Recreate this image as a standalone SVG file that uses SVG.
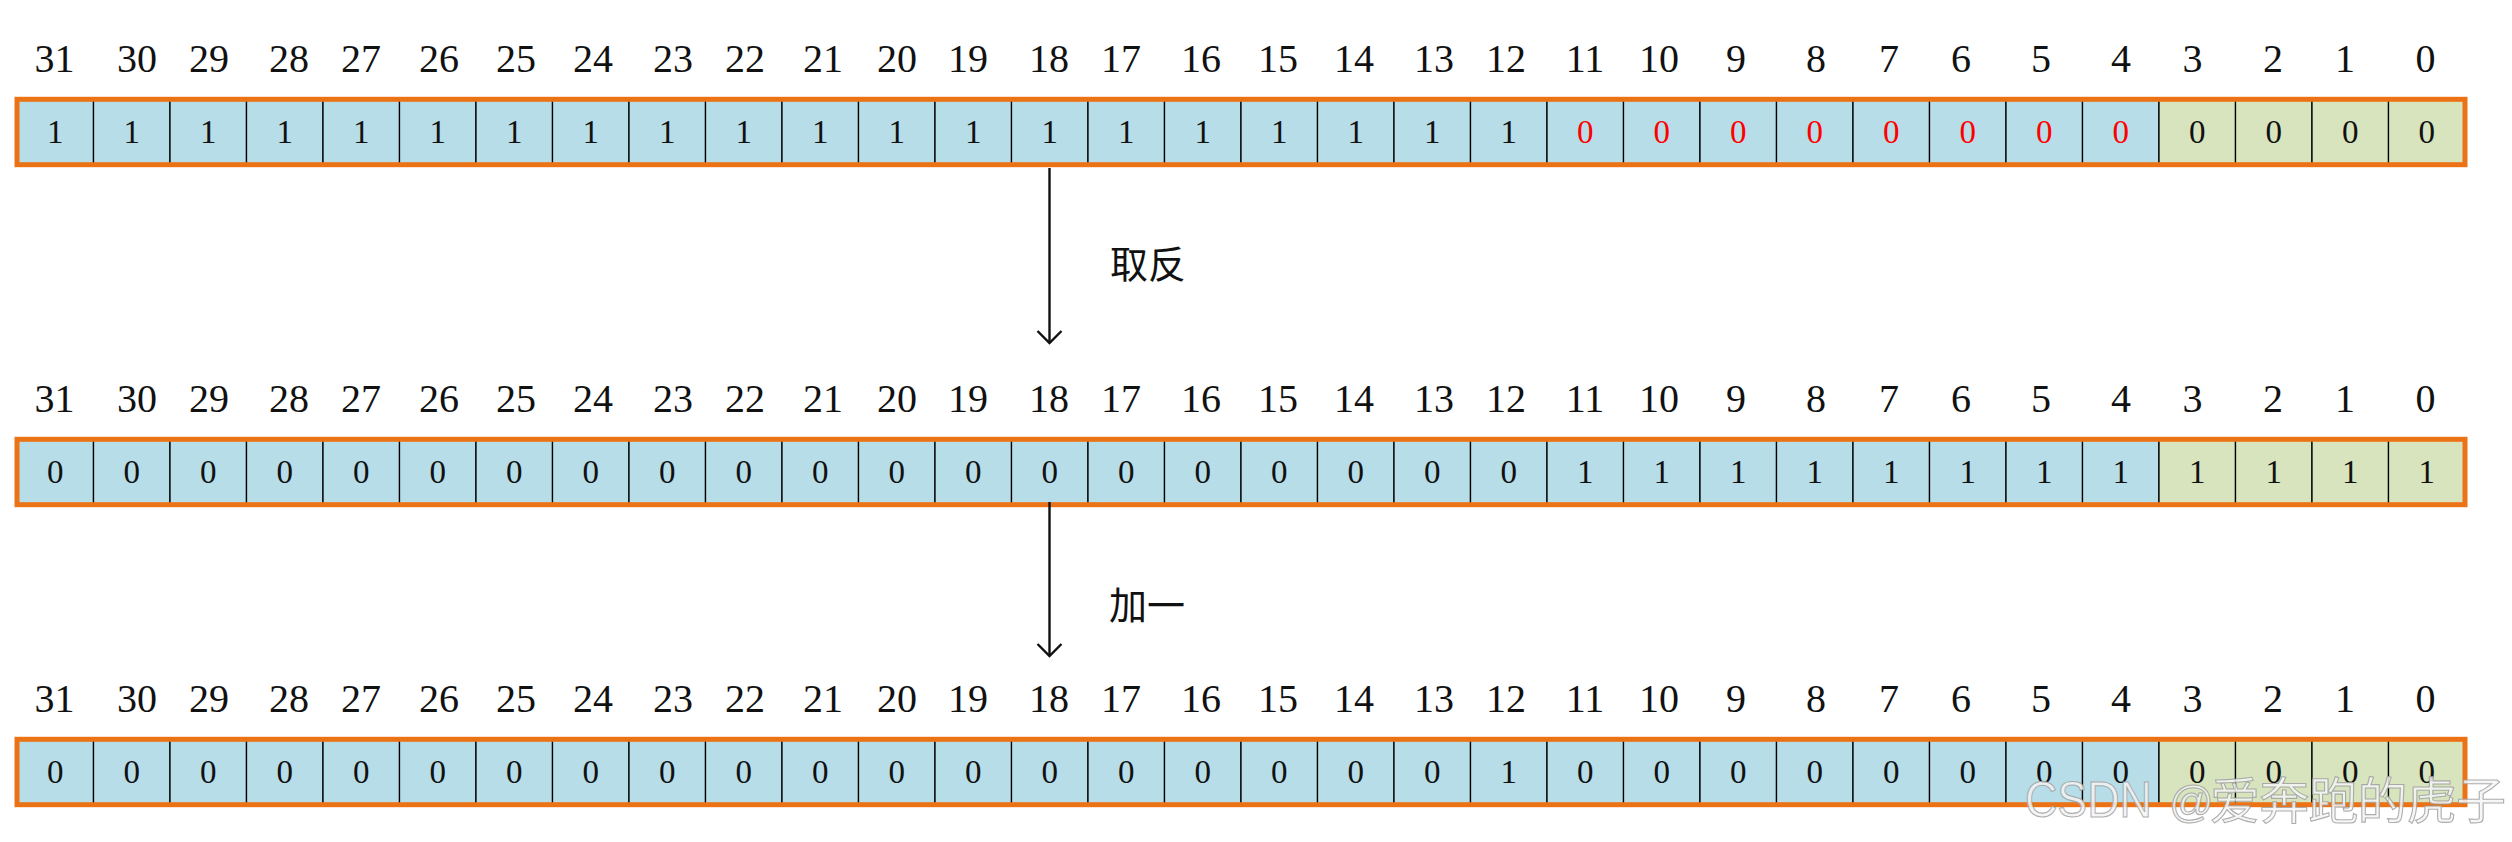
<svg xmlns="http://www.w3.org/2000/svg" width="2512" height="842" viewBox="0 0 2512 842">
<style>
.bg{fill:#ffffff}
.c{fill:#B7DDE8;stroke:#000;stroke-width:1.3}
.g{fill:#D7E4BD;stroke:#000;stroke-width:1.3}
.frame{fill:none;stroke:#EB7316;stroke-width:5}
.lbl{font-family:"Liberation Serif","DejaVu Serif",serif;font-size:40px;fill:#111;text-anchor:middle}
.v{font-family:"Liberation Serif","DejaVu Serif",serif;font-size:33px;fill:#111;text-anchor:middle}
.r{fill:#FF0000}
.op{font-family:"Noto Sans CJK SC","Noto Sans CJK JP",sans-serif;font-size:38px;fill:#111}
.arr{stroke:#111;stroke-width:2.4;fill:none}
.wm{font-size:50px;fill:#f4f4f4;fill-opacity:0.85;stroke:#9a9a9a;stroke-width:1.1;stroke-opacity:0.8}
.wl{font-family:"Liberation Sans","Noto Sans",sans-serif}
.wc{font-family:"Noto Sans CJK SC","Noto Sans CJK JP",sans-serif}
</style>
<rect class="bg" x="0" y="0" width="2512" height="842"/>

<g id="row1">
<g class="hdr">
<text class="lbl" x="54.5" y="72">31</text><text class="lbl" x="137" y="72">30</text><text class="lbl" x="209" y="72">29</text><text class="lbl" x="289" y="72">28</text><text class="lbl" x="361" y="72">27</text><text class="lbl" x="439" y="72">26</text><text class="lbl" x="516" y="72">25</text><text class="lbl" x="593" y="72">24</text><text class="lbl" x="673" y="72">23</text><text class="lbl" x="745" y="72">22</text><text class="lbl" x="823" y="72">21</text><text class="lbl" x="897" y="72">20</text><text class="lbl" x="968" y="72">19</text><text class="lbl" x="1049" y="72">18</text><text class="lbl" x="1121" y="72">17</text><text class="lbl" x="1201" y="72">16</text><text class="lbl" x="1278" y="72">15</text><text class="lbl" x="1354" y="72">14</text><text class="lbl" x="1434" y="72">13</text><text class="lbl" x="1506" y="72">12</text><text class="lbl" x="1585" y="72">11</text><text class="lbl" x="1659" y="72">10</text><text class="lbl" x="1736" y="72">9</text><text class="lbl" x="1816" y="72">8</text><text class="lbl" x="1889" y="72">7</text><text class="lbl" x="1961" y="72">6</text><text class="lbl" x="2041" y="72">5</text><text class="lbl" x="2121" y="72">4</text><text class="lbl" x="2192.5" y="72">3</text><text class="lbl" x="2273" y="72">2</text><text class="lbl" x="2345" y="72">1</text><text class="lbl" x="2425.5" y="72">0</text>
</g>
<g class="cells">
<rect class="c" x="17" y="99.3" width="76.5" height="65.4"/><rect class="c" x="93.5" y="99.3" width="76.5" height="65.4"/><rect class="c" x="170" y="99.3" width="76.5" height="65.4"/><rect class="c" x="246.5" y="99.3" width="76.5" height="65.4"/><rect class="c" x="323" y="99.3" width="76.5" height="65.4"/><rect class="c" x="399.5" y="99.3" width="76.5" height="65.4"/><rect class="c" x="476" y="99.3" width="76.5" height="65.4"/><rect class="c" x="552.5" y="99.3" width="76.5" height="65.4"/><rect class="c" x="629" y="99.3" width="76.5" height="65.4"/><rect class="c" x="705.5" y="99.3" width="76.5" height="65.4"/><rect class="c" x="782" y="99.3" width="76.5" height="65.4"/><rect class="c" x="858.5" y="99.3" width="76.5" height="65.4"/><rect class="c" x="935" y="99.3" width="76.5" height="65.4"/><rect class="c" x="1011.5" y="99.3" width="76.5" height="65.4"/><rect class="c" x="1088" y="99.3" width="76.5" height="65.4"/><rect class="c" x="1164.5" y="99.3" width="76.5" height="65.4"/><rect class="c" x="1241" y="99.3" width="76.5" height="65.4"/><rect class="c" x="1317.5" y="99.3" width="76.5" height="65.4"/><rect class="c" x="1394" y="99.3" width="76.5" height="65.4"/><rect class="c" x="1470.5" y="99.3" width="76.5" height="65.4"/><rect class="c" x="1547" y="99.3" width="76.5" height="65.4"/><rect class="c" x="1623.5" y="99.3" width="76.5" height="65.4"/><rect class="c" x="1700" y="99.3" width="76.5" height="65.4"/><rect class="c" x="1776.5" y="99.3" width="76.5" height="65.4"/><rect class="c" x="1853" y="99.3" width="76.5" height="65.4"/><rect class="c" x="1929.5" y="99.3" width="76.5" height="65.4"/><rect class="c" x="2006" y="99.3" width="76.5" height="65.4"/><rect class="c" x="2082.5" y="99.3" width="76.5" height="65.4"/><rect class="g" x="2159" y="99.3" width="76.5" height="65.4"/><rect class="g" x="2235.5" y="99.3" width="76.5" height="65.4"/><rect class="g" x="2312" y="99.3" width="76.5" height="65.4"/><rect class="g" x="2388.5" y="99.3" width="76.5" height="65.4"/>
<rect class="frame" x="17" y="99.3" width="2448" height="65.4"/>
</g>
<g class="vals">
<text class="v" x="55.25" y="143">1</text><text class="v" x="131.75" y="143">1</text><text class="v" x="208.25" y="143">1</text><text class="v" x="284.75" y="143">1</text><text class="v" x="361.25" y="143">1</text><text class="v" x="437.75" y="143">1</text><text class="v" x="514.25" y="143">1</text><text class="v" x="590.75" y="143">1</text><text class="v" x="667.25" y="143">1</text><text class="v" x="743.75" y="143">1</text><text class="v" x="820.25" y="143">1</text><text class="v" x="896.75" y="143">1</text><text class="v" x="973.25" y="143">1</text><text class="v" x="1049.75" y="143">1</text><text class="v" x="1126.25" y="143">1</text><text class="v" x="1202.75" y="143">1</text><text class="v" x="1279.25" y="143">1</text><text class="v" x="1355.75" y="143">1</text><text class="v" x="1432.25" y="143">1</text><text class="v" x="1508.75" y="143">1</text>
<text class="v r" x="1585.25" y="143">0</text><text class="v r" x="1661.75" y="143">0</text><text class="v r" x="1738.25" y="143">0</text><text class="v r" x="1814.75" y="143">0</text><text class="v r" x="1891.25" y="143">0</text><text class="v r" x="1967.75" y="143">0</text><text class="v r" x="2044.25" y="143">0</text><text class="v r" x="2120.75" y="143">0</text>
<text class="v" x="2197.25" y="143">0</text><text class="v" x="2273.75" y="143">0</text><text class="v" x="2350.25" y="143">0</text><text class="v" x="2426.75" y="143">0</text>
</g>
</g>

<g id="row2">
<g class="hdr">
<text class="lbl" x="54.5" y="412">31</text><text class="lbl" x="137" y="412">30</text><text class="lbl" x="209" y="412">29</text><text class="lbl" x="289" y="412">28</text><text class="lbl" x="361" y="412">27</text><text class="lbl" x="439" y="412">26</text><text class="lbl" x="516" y="412">25</text><text class="lbl" x="593" y="412">24</text><text class="lbl" x="673" y="412">23</text><text class="lbl" x="745" y="412">22</text><text class="lbl" x="823" y="412">21</text><text class="lbl" x="897" y="412">20</text><text class="lbl" x="968" y="412">19</text><text class="lbl" x="1049" y="412">18</text><text class="lbl" x="1121" y="412">17</text><text class="lbl" x="1201" y="412">16</text><text class="lbl" x="1278" y="412">15</text><text class="lbl" x="1354" y="412">14</text><text class="lbl" x="1434" y="412">13</text><text class="lbl" x="1506" y="412">12</text><text class="lbl" x="1585" y="412">11</text><text class="lbl" x="1659" y="412">10</text><text class="lbl" x="1736" y="412">9</text><text class="lbl" x="1816" y="412">8</text><text class="lbl" x="1889" y="412">7</text><text class="lbl" x="1961" y="412">6</text><text class="lbl" x="2041" y="412">5</text><text class="lbl" x="2121" y="412">4</text><text class="lbl" x="2192.5" y="412">3</text><text class="lbl" x="2273" y="412">2</text><text class="lbl" x="2345" y="412">1</text><text class="lbl" x="2425.5" y="412">0</text>
</g>
<g class="cells">
<rect class="c" x="17" y="439.3" width="76.5" height="65.4"/><rect class="c" x="93.5" y="439.3" width="76.5" height="65.4"/><rect class="c" x="170" y="439.3" width="76.5" height="65.4"/><rect class="c" x="246.5" y="439.3" width="76.5" height="65.4"/><rect class="c" x="323" y="439.3" width="76.5" height="65.4"/><rect class="c" x="399.5" y="439.3" width="76.5" height="65.4"/><rect class="c" x="476" y="439.3" width="76.5" height="65.4"/><rect class="c" x="552.5" y="439.3" width="76.5" height="65.4"/><rect class="c" x="629" y="439.3" width="76.5" height="65.4"/><rect class="c" x="705.5" y="439.3" width="76.5" height="65.4"/><rect class="c" x="782" y="439.3" width="76.5" height="65.4"/><rect class="c" x="858.5" y="439.3" width="76.5" height="65.4"/><rect class="c" x="935" y="439.3" width="76.5" height="65.4"/><rect class="c" x="1011.5" y="439.3" width="76.5" height="65.4"/><rect class="c" x="1088" y="439.3" width="76.5" height="65.4"/><rect class="c" x="1164.5" y="439.3" width="76.5" height="65.4"/><rect class="c" x="1241" y="439.3" width="76.5" height="65.4"/><rect class="c" x="1317.5" y="439.3" width="76.5" height="65.4"/><rect class="c" x="1394" y="439.3" width="76.5" height="65.4"/><rect class="c" x="1470.5" y="439.3" width="76.5" height="65.4"/><rect class="c" x="1547" y="439.3" width="76.5" height="65.4"/><rect class="c" x="1623.5" y="439.3" width="76.5" height="65.4"/><rect class="c" x="1700" y="439.3" width="76.5" height="65.4"/><rect class="c" x="1776.5" y="439.3" width="76.5" height="65.4"/><rect class="c" x="1853" y="439.3" width="76.5" height="65.4"/><rect class="c" x="1929.5" y="439.3" width="76.5" height="65.4"/><rect class="c" x="2006" y="439.3" width="76.5" height="65.4"/><rect class="c" x="2082.5" y="439.3" width="76.5" height="65.4"/><rect class="g" x="2159" y="439.3" width="76.5" height="65.4"/><rect class="g" x="2235.5" y="439.3" width="76.5" height="65.4"/><rect class="g" x="2312" y="439.3" width="76.5" height="65.4"/><rect class="g" x="2388.5" y="439.3" width="76.5" height="65.4"/>
<rect class="frame" x="17" y="439.3" width="2448" height="65.4"/>
</g>
<g class="vals">
<text class="v" x="55.25" y="483">0</text><text class="v" x="131.75" y="483">0</text><text class="v" x="208.25" y="483">0</text><text class="v" x="284.75" y="483">0</text><text class="v" x="361.25" y="483">0</text><text class="v" x="437.75" y="483">0</text><text class="v" x="514.25" y="483">0</text><text class="v" x="590.75" y="483">0</text><text class="v" x="667.25" y="483">0</text><text class="v" x="743.75" y="483">0</text><text class="v" x="820.25" y="483">0</text><text class="v" x="896.75" y="483">0</text><text class="v" x="973.25" y="483">0</text><text class="v" x="1049.75" y="483">0</text><text class="v" x="1126.25" y="483">0</text><text class="v" x="1202.75" y="483">0</text><text class="v" x="1279.25" y="483">0</text><text class="v" x="1355.75" y="483">0</text><text class="v" x="1432.25" y="483">0</text><text class="v" x="1508.75" y="483">0</text>
<text class="v" x="1585.25" y="483">1</text><text class="v" x="1661.75" y="483">1</text><text class="v" x="1738.25" y="483">1</text><text class="v" x="1814.75" y="483">1</text><text class="v" x="1891.25" y="483">1</text><text class="v" x="1967.75" y="483">1</text><text class="v" x="2044.25" y="483">1</text><text class="v" x="2120.75" y="483">1</text>
<text class="v" x="2197.25" y="483">1</text><text class="v" x="2273.75" y="483">1</text><text class="v" x="2350.25" y="483">1</text><text class="v" x="2426.75" y="483">1</text>
</g>
</g>

<g id="row3">
<g class="hdr">
<text class="lbl" x="54.5" y="712">31</text><text class="lbl" x="137" y="712">30</text><text class="lbl" x="209" y="712">29</text><text class="lbl" x="289" y="712">28</text><text class="lbl" x="361" y="712">27</text><text class="lbl" x="439" y="712">26</text><text class="lbl" x="516" y="712">25</text><text class="lbl" x="593" y="712">24</text><text class="lbl" x="673" y="712">23</text><text class="lbl" x="745" y="712">22</text><text class="lbl" x="823" y="712">21</text><text class="lbl" x="897" y="712">20</text><text class="lbl" x="968" y="712">19</text><text class="lbl" x="1049" y="712">18</text><text class="lbl" x="1121" y="712">17</text><text class="lbl" x="1201" y="712">16</text><text class="lbl" x="1278" y="712">15</text><text class="lbl" x="1354" y="712">14</text><text class="lbl" x="1434" y="712">13</text><text class="lbl" x="1506" y="712">12</text><text class="lbl" x="1585" y="712">11</text><text class="lbl" x="1659" y="712">10</text><text class="lbl" x="1736" y="712">9</text><text class="lbl" x="1816" y="712">8</text><text class="lbl" x="1889" y="712">7</text><text class="lbl" x="1961" y="712">6</text><text class="lbl" x="2041" y="712">5</text><text class="lbl" x="2121" y="712">4</text><text class="lbl" x="2192.5" y="712">3</text><text class="lbl" x="2273" y="712">2</text><text class="lbl" x="2345" y="712">1</text><text class="lbl" x="2425.5" y="712">0</text>
</g>
<g class="cells">
<rect class="c" x="17" y="739.3" width="76.5" height="65.4"/><rect class="c" x="93.5" y="739.3" width="76.5" height="65.4"/><rect class="c" x="170" y="739.3" width="76.5" height="65.4"/><rect class="c" x="246.5" y="739.3" width="76.5" height="65.4"/><rect class="c" x="323" y="739.3" width="76.5" height="65.4"/><rect class="c" x="399.5" y="739.3" width="76.5" height="65.4"/><rect class="c" x="476" y="739.3" width="76.5" height="65.4"/><rect class="c" x="552.5" y="739.3" width="76.5" height="65.4"/><rect class="c" x="629" y="739.3" width="76.5" height="65.4"/><rect class="c" x="705.5" y="739.3" width="76.5" height="65.4"/><rect class="c" x="782" y="739.3" width="76.5" height="65.4"/><rect class="c" x="858.5" y="739.3" width="76.5" height="65.4"/><rect class="c" x="935" y="739.3" width="76.5" height="65.4"/><rect class="c" x="1011.5" y="739.3" width="76.5" height="65.4"/><rect class="c" x="1088" y="739.3" width="76.5" height="65.4"/><rect class="c" x="1164.5" y="739.3" width="76.5" height="65.4"/><rect class="c" x="1241" y="739.3" width="76.5" height="65.4"/><rect class="c" x="1317.5" y="739.3" width="76.5" height="65.4"/><rect class="c" x="1394" y="739.3" width="76.5" height="65.4"/><rect class="c" x="1470.5" y="739.3" width="76.5" height="65.4"/><rect class="c" x="1547" y="739.3" width="76.5" height="65.4"/><rect class="c" x="1623.5" y="739.3" width="76.5" height="65.4"/><rect class="c" x="1700" y="739.3" width="76.5" height="65.4"/><rect class="c" x="1776.5" y="739.3" width="76.5" height="65.4"/><rect class="c" x="1853" y="739.3" width="76.5" height="65.4"/><rect class="c" x="1929.5" y="739.3" width="76.5" height="65.4"/><rect class="c" x="2006" y="739.3" width="76.5" height="65.4"/><rect class="c" x="2082.5" y="739.3" width="76.5" height="65.4"/><rect class="g" x="2159" y="739.3" width="76.5" height="65.4"/><rect class="g" x="2235.5" y="739.3" width="76.5" height="65.4"/><rect class="g" x="2312" y="739.3" width="76.5" height="65.4"/><rect class="g" x="2388.5" y="739.3" width="76.5" height="65.4"/>
<rect class="frame" x="17" y="739.3" width="2448" height="65.4"/>
</g>
<g class="vals">
<text class="v" x="55.25" y="783">0</text><text class="v" x="131.75" y="783">0</text><text class="v" x="208.25" y="783">0</text><text class="v" x="284.75" y="783">0</text><text class="v" x="361.25" y="783">0</text><text class="v" x="437.75" y="783">0</text><text class="v" x="514.25" y="783">0</text><text class="v" x="590.75" y="783">0</text><text class="v" x="667.25" y="783">0</text><text class="v" x="743.75" y="783">0</text><text class="v" x="820.25" y="783">0</text><text class="v" x="896.75" y="783">0</text><text class="v" x="973.25" y="783">0</text><text class="v" x="1049.75" y="783">0</text><text class="v" x="1126.25" y="783">0</text><text class="v" x="1202.75" y="783">0</text><text class="v" x="1279.25" y="783">0</text><text class="v" x="1355.75" y="783">0</text><text class="v" x="1432.25" y="783">0</text><text class="v" x="1508.75" y="783">1</text>
<text class="v" x="1585.25" y="783">0</text><text class="v" x="1661.75" y="783">0</text><text class="v" x="1738.25" y="783">0</text><text class="v" x="1814.75" y="783">0</text><text class="v" x="1891.25" y="783">0</text><text class="v" x="1967.75" y="783">0</text><text class="v" x="2044.25" y="783">0</text><text class="v" x="2120.75" y="783">0</text>
<text class="v" x="2197.25" y="783">0</text><text class="v" x="2273.75" y="783">0</text><text class="v" x="2350.25" y="783">0</text><text class="v" x="2426.75" y="783">0</text>
</g>
</g>

<g id="connectors">
<line class="arr" x1="1049.5" y1="168" x2="1049.5" y2="342.5"/>
<polyline class="arr" points="1037.5,331 1049.5,343 1061.5,331"/>
<line class="arr" x1="1049.5" y1="502" x2="1049.5" y2="655.5"/>
<polyline class="arr" points="1037.5,644 1049.5,656 1061.5,644"/>
</g>

<g id="op-labels">
<text class="op" x="1110" y="278">取反</text>
<text class="op" x="1109" y="619">加一</text>
</g>

<g id="watermark">
<text class="wm" y="817"><tspan class="wl" x="2025" textLength="127" lengthAdjust="spacingAndGlyphs">CSDN</tspan><tspan class="wl" x="2169" font-size="44">@</tspan><tspan class="wc" x="2210" y="819" textLength="296" lengthAdjust="spacing">爱奔跑的虎子</tspan></text>
</g>
</svg>
